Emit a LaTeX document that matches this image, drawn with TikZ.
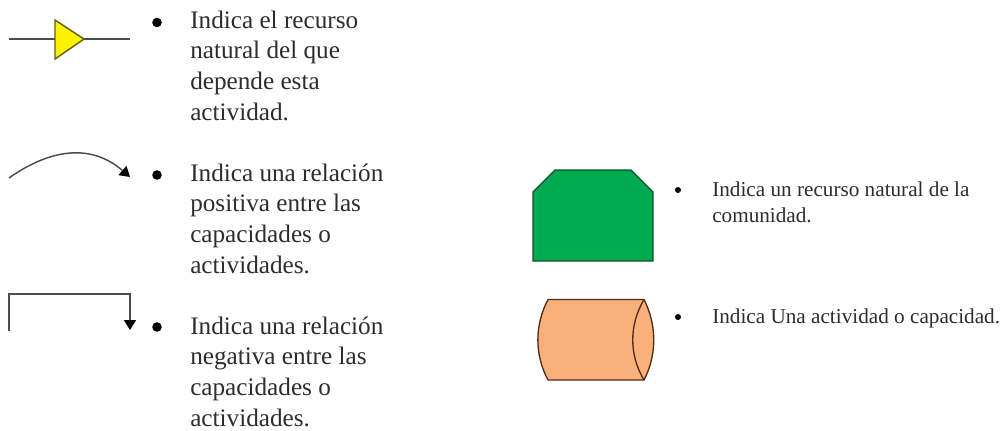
\documentclass[tikz,border=0pt]{standalone}
\usepackage{fontspec}
\setmainfont{Liberation Serif}
\usetikzlibrary{arrows.meta}
\definecolor{txt}{RGB}{45,45,45}
\definecolor{gr}{RGB}{0,170,78}
\definecolor{org}{RGB}{250,176,122}
\definecolor{grline}{RGB}{20,80,40}
\definecolor{orline}{RGB}{80,45,25}
\definecolor{yeline}{RGB}{100,100,20}
\tikzset{
  x=0.75pt,y=-0.75pt,
  line/.style={draw=black!70,line width=1.1pt},
  big/.style={anchor=base west,inner sep=0pt,align=left,text=txt,font=\fontsize{18.9}{22.9}\selectfont},
  small/.style={anchor=base west,inner sep=0pt,align=left,text=txt,font=\fontsize{15.9}{19.5}\selectfont},
  dot/.style={circle,fill=black,inner sep=0pt,minimum size=#1},
  tip/.style={-{Triangle[length=7.5pt,width=9pt,color=black]}}
}
\begin{document}
\begin{tikzpicture}
\useasboundingbox (0,0) rectangle (1004,430);
% yellow connector
\coordinate (a1) at (9,39); \coordinate (a2) at (130,39);
\draw[line] (a1) -- (a2);
\path[draw=yeline,fill=yellow,line width=1.1pt] (55,20) -- (84,39) -- (55,59) -- cycle;
% curved arrow
\coordinate (b1) at (9,178); \coordinate (b2) at (130,177);
\draw[line,tip] (b1) .. controls (40,156) and (85,138) .. (b2);
% elbow arrow
\coordinate (c1) at (9,331); \coordinate (c2) at (130,294); \coordinate (c3) at (130,330);
\draw[line,tip] (c1) |- (c2) -- (c3);
% bullets
\node[dot=7.2pt] (d1) at (157,22.5) {};
\node[dot=7.2pt] (d2) at (157,175) {};
\node[dot=7.2pt] (d3) at (157,327) {};
\node[dot=4.5pt] (d4) at (678,190) {};
\node[dot=4.5pt] (d5) at (678,317) {};
% text
\node[big] (t1) at (190,120) {Indica el recurso\\natural del que\\depende esta\\actividad.};
\node[big] (t2) at (190,273) {Indica una relación\\positiva entre las\\capacidades o\\actividades.};
\node[big] (t3) at (190,426) {Indica una relación\\negativa entre las\\capacidades o\\actividades.};
\node[small] (t4) at (712,222) {Indica un recurso natural de la\\comunidad.};
\node[small] (t5) at (712,323) {Indica Una actividad o capacidad.};
% green
\path[draw=grline,fill=gr,line width=1pt] (533,192) -- (555,170) -- (631,170) -- (653,192) -- (653,261) -- (533,261) -- cycle;
% orange cylinder
\path[draw=orline,fill=org,line width=1pt] (548,299.5) -- (644,299.5) .. controls (657,325) and (657,355) .. (644,380) -- (548,380) .. controls (534.5,355) and (534.5,325) .. (548,299.5) -- cycle;
\draw[draw=orline,line width=1pt] (644,299.5) .. controls (629,325) and (629,355) .. (644,380);
\end{tikzpicture}
\end{document}
